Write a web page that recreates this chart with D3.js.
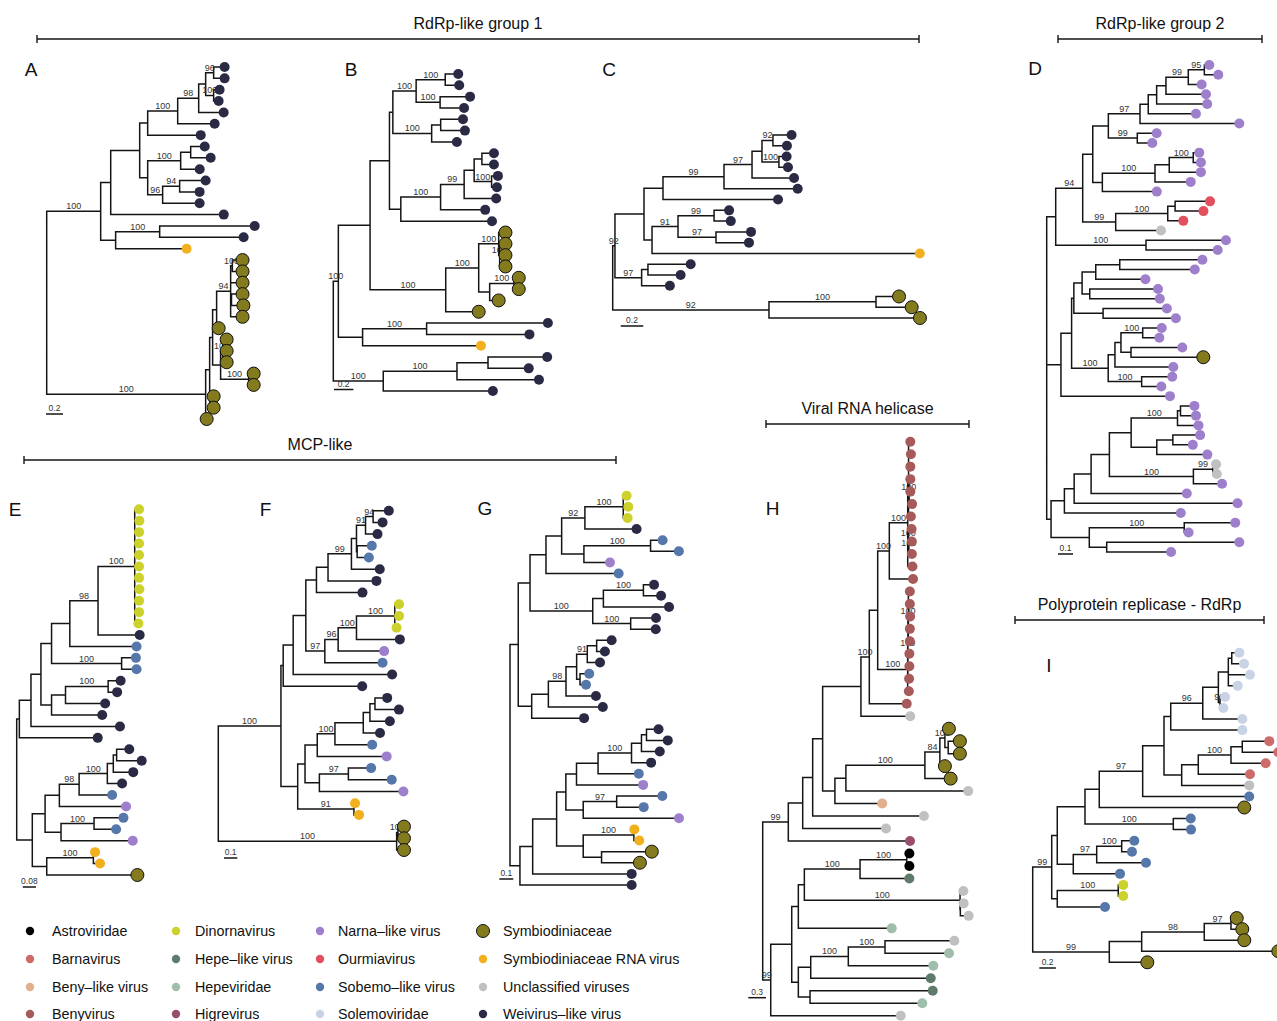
<!DOCTYPE html>
<html>
<head>
<meta charset="utf-8">
<script src="https://cdn.jsdelivr.net/npm/d3@7"></script>
<style>
  body { margin: 0; background: #fff; }
  svg { display: block; font-family: "Liberation Sans", Arial, Helvetica, sans-serif; }
</style>
</head>
<body>
<div id="chart"></div>
<script>
'use strict';

// tip categories (code used in the trees, legend name, colour)
const tipCodes = ["A", "R", "K", "V", "D", "H", "E", "G", "N", "O", "B", "L", "S", "Y", "U", "W"];
const tipNames = ["Astroviridae", "Barnavirus", "Beny\u2013like virus", "Benyvirus",
  "Dinornavirus", "Hepe\u2013like virus", "Hepeviridae", "Higrevirus",
  "Narna\u2013like virus", "Ourmiavirus", "Sobemo\u2013like virus", "Solemoviridae",
  "Symbiodiniaceae", "Symbiodiniaceae RNA virus", "Unclassified viruses", "Weivirus\u2013like virus"];
const tipColors = ["#000000", "#cd6b6b", "#e0b08c", "#a65a5a",
  "#cdd12b", "#5f7b6c", "#9fbfac", "#9a4e6e",
  "#9e7fcb", "#e2505d", "#5577aa", "#c8d3e6",
  "#847b1e", "#f2b01e", "#c0c0c0", "#2b2a45"];

const groupTitles = ["RdRp-like group 1", "RdRp-like group 2", "MCP-like", "Viral RNA helicase", "Polyprotein replicase - RdRp"];

// trees in newick, tip name = category code, internal name = bootstrap
const treeA = `(
 ((((((((W:.129,W:.129)96:.094,(W:.07,W:.059)100:.094):.082,W:.294)98:.247,W:.435)100:.353,W:.624):.094,
  (((W:.165,W:.235):.118,W:.224)100:.388,((W:.306,W:.235)94:.2,W:.435)96:.176):.094):.341,
  W:1.33):.118,
  ((W:1.118,W:.988)100:.518,Y:.835):.176)100:.635,
 ((((((S:.12,S:.12)100:.02,S:.14,(S:.13,S:.14):.01,S:.14)94:.165,S:.024):.047,
  ((S:.047,S:.047,S:.047)100:.024,(S:.059,S:.059)100:.33):.094):.035,
  (S:.035,S:.035):.012):.047,
  S:.012)100:1.87
)`;

const treeB = `(
 ((((((W:.134,W:.144)100:.3,(W:.309,W:.247)100:.247)100:.24,((W:.23,W:.25):.093,W:.26)100:.4):.035,
  (((((W:.124,W:.124):.08,(W:.065,W:.055)100:.18):.103,W:.33)99:.243,W:.46)100:.41,W:.94):.117):.2,
  (((S:.07,(S:.06,S:.06,S:.06)100:.01)100:.206,((S:.05,S:.05)100:.25,S:.093):.113)100:.34,S:.34)100:.78):.327,
  ((W:1.25,W:1.06)100:.66,Y:1.22):.25)100:.052,
 (((W:.61,W:.42):.32,W:.845)100:.76,W:1.13)100:.515
)`;

const treeC = `(
 (((((((W:.165,W:.124)92:.097,(W:.068,W:.08)100:.15):.088,W:.372)97:.248,W:.652)99:.54,W:1.018):.168,
  (((W:.133,W:.148)99:.319,(W:.31,W:.292)97:.336)91:.23,Y:2.37):.071):.257,
  ((W:.378,W:.289):.056,W:.25)97:.236)92:.02,
 ((S:.204,S:.316)100:.947,S:1.336)92:1.383
)`;

const treeD = `(
 ((((((((((N:.033,N:.093)95:.107,N:.089)99:.149,N:.267):.062,N:.337):.056,N:.318):.055,N:.662)97:.211,
  (N:.129,N:.1)99:.193):.104,
  ((((N:.04,N:.051)100:.16,N:.211):.095,N:.238)100:.351,N:.363):.064):.067,
  (((O:.233,O:.189):.049,O:.104)100:.347,U:.302)99:.22)94:.18,
  (N:.533,N:.478)100:.602):.06,
 ((((((N:.551,N:.5):.16,N:.331):.091,(N:.455,N:.467):.051):.055,(N:.425,N:.485):.195):.015,
  ((((N:.127,N:.111)100:.145,(N:.342,S:.482):.067):.04,N:.389):.045,(N:.204,N:.131)100:.223)100:.244):.071,
  N:.727):.095,
 ((((((((N:.093,N:.103):.02,N:.14)100:.309,((N:.182,N:.133):.107,N:.337):.171):.145,
  ((U:.022,U:.027)99:.129,N:.191)100:.56):.122,N:.638):.113,N:1.089):.065,N:.776):.089,
  ((N:.34,N:.029)100:.633,(N:.884,N:.429):.116):.255):.029
)`;

const treeE = `(
 (((((((D:.026,D:.028,D:.026,D:.026,D:.026,D:.026,D:.026,D:.028,D:.026,D:.026,D:.022)100:.221,W:.251)98:.17,B:.402):.11,
  (B:.086,B:.09)100:.422):.064,
  (((W:.075,W:.054)100:.257,W:.239):.084,W:.305):.064):.06,
  W:.536):.07,
  W:.472):.016,
 (((((((W:.076,W:.151):.02,W:.12):.036,W:.089)100:.17,B:.199)98:.119,N:.402):.086,
  ((B:.177,B:.133)100:.199,N:.432):.096):.077,
  ((Y:.01,Y:.04)100:.281,S:.546):.087):.094
)`;

const treeF = `(
 ((((((((((W:.118,W:.071)94:.057,W:.09)91:.068,(B:.11,B:.088):.005):.038,W:.213)99:.176,W:.364):.087,W:.346):.08,
  ((((D:.032,D:.032,D:.013)100:.288,W:.326)100:.138,N:.346)96:.1,B:.434)97:.143):.095,
  W:.744):.075,
  W:.594):.017,
  (((((((W:.092,W:.18):.038,W:.15):.05,W:.126):.213,B:.28)100:.133,N:.522):.092,
  ((B:.171,B:.326)97:.218,N:.632):.108):.055,
  (Y:.008,Y:.038)91:.423):.126)100:.471,
 ((S:.045,S:.045)100:.01,S:.055)100:1.341
)`;

const treeG = `(
 ((((((D:.024,D:.036,D:.031)100:.274,W:.369)92:.166,((B:.086,B:.202)100:.476,N:.186):.159):.112,B:.519):.114,
  (((W:.076,W:.126)100:.286,W:.469):.076,(W:.181,W:.179)100:.271)100:.448):.084,
  ((((((W:.107,W:.059):.067,W:.091)91:.076,(B:.066,B:.043):.024):.076,W:.214)98:.126,W:.389):.119,W:.374):.096):.059,
 (((((((((W:.086,W:.152):.036,W:.131):.071,W:.14)100:.239,B:.291):.154,N:.476):.076,
  ((B:.326,B:.193)97:.239,N:.684):.124):.066,
  ((Y:.003,Y:.038)100:.362,(S:.359,S:.274):.131):.19):.171,
  W:.707):.091,
  W:.798):.071
)`;

const treeH = `(
 ((((((((((V:.03,V:.04,V:.03,(V:.02,V:.02,V:.05)100:.01,V:.04):.014,(V:.05,(V:.05,V:.05)100:.005)100:.015,V:.08)100:.312,V:.402)100:.197,
  (((V:.025,V:.025,V:.03,V:.025,V:.025)100:.008,V:.025,V:.025,V:.02)100:.004,V:.02)100:.508):.142,V:.634)100:.142,U:.836):.649,
  (((((S:.068,(S:.198,S:.198):.056)100:.085,S:.085)84:.254,S:.436)100:1.339,U:2.073):.186,K:.802):.208):.169,
  U:1.886):.169,
  U:1.412):.244,
  G:2.063)99:.434,
 ((((((A:.044,A:.044)100:.792,H:.836)100:.944,(U:.056,(U:.056,U:.141):.005)100:2.639):.102,E:1.583):.112,
  ((((U:1.175,E:1.085)100:.622,E:1.441)100:.637,H:2.034):.21,(H:2.08,E:1.903):.198):.112):.356,
  U:2.203)99:.136
)`;

const treeI = `(
 (((((((((((L:.092,L:.148):.041,L:.261,L:.113):.12,(L:.06,L:.04)99:.02):.188,L:.477)96:.386,L:.863):.081,
  ((((R:.325,R:.434):.136,R:.418)100:.394,R:.623):.2,U:.814):.213):.257,B:1.284)97:.523,S:1.747):.172,
  (B:.21,B:.213)100:1.064):.334,
  (((B:.152,B:.124)100:.301,B:.594)97:.282,B:.563):.193):.067,
  ((D:.06,D:.06)100:.735,B:.575):.067)99:.229,
 ((((S:.069,S:.136)97:.322,S:.482)98:.754,S:1.646):.39,S:.458)99:.923
)`;

// scale bar values
const barValues = [0.2, 0.2, 0.2, 0.1, 0.08, 0.1, 0.1, 0.3, 0.2];

// ---- layout ----
const width = 1277, height = 1021;
const panels = [
  {id: "A", tree: treeA, rootX: 46.7,  ppu: 85,  yTop: 67,    yBottom: 419,   bar: [46, 414],     letter: [31, 76]},
  {id: "B", tree: treeB, rootX: 333.3, ppu: 97,  yTop: 74,    yBottom: 391,   bar: [334, 389.5],  letter: [351, 76]},
  {id: "C", tree: treeC, rootX: 612.7, ppu: 113, yTop: 135,   yBottom: 318,   bar: [620.7, 326],  letter: [609, 76]},
  {id: "D", tree: treeD, rootX: 1046.7,ppu: 150, yTop: 65,    yBottom: 552,   bar: [1058, 554],   letter: [1035, 75]},
  {id: "E", tree: treeE, rootX: 16.7,  ppu: 166, yTop: 509.3, yBottom: 875,   bar: [22.7, 887],   letter: [15, 516]},
  {id: "F", tree: treeF, rootX: 218.3, ppu: 133, yTop: 510.7, yBottom: 850,   bar: [224, 858],    letter: [265.5, 516]},
  {id: "G", tree: treeG, rootX: 510,   ppu: 140, yTop: 495.7, yBottom: 885,   bar: [499.3, 879],  letter: [485, 515]},
  {id: "H", tree: treeH, rootX: 762.7, ppu: 59,  yTop: 441.7, yBottom: 1015.7,bar: [748.3, 997.7],letter: [772.5, 515]},
  {id: "I", tree: treeI, rootX: 1032.7,ppu: 83,  yTop: 652.7, yBottom: 962.3, bar: [1039.3, 968], letter: [1049, 672]}
];
const groupSpans = [[37, 919, 39], [1058, 1262, 39], [24, 616, 460], [766, 969, 424], [1015, 1264, 620]];
const legendDotX = [30, 176, 320, 483], legendTextX = [52, 195, 338, 503];
const legendRowY = [931, 959, 987, 1014];

const color = d3.scaleOrdinal().domain(tipCodes).range(tipColors);

function parseNewick(str) {
  const s = str.replace(/\s+/g, "").replace(/;$/, "");
  let i = 0;
  function node() {
    const n = {children: [], length: 0};
    if (s[i] === "(") {
      i++;
      n.children.push(node());
      while (s[i] === ",") { i++; n.children.push(node()); }
      i++; // ')'
    }
    let name = "";
    while (i < s.length && !",():".includes(s[i])) name += s[i++];
    if (s[i] === ":") {
      i++;
      let num = "";
      while (i < s.length && !",()".includes(s[i])) num += s[i++];
      n.length = +num;
    }
    if (n.children.length) n.support = name; else n.tip = name;
    return n;
  }
  return node();
}

const svg = d3.select("#chart").append("svg")
  .attr("width", width)
  .attr("height", height);

svg.append("rect").attr("width", width).attr("height", height).attr("fill", "#fff");

function drawTree(p, k) {
  const root = d3.hierarchy(parseNewick(p.tree), d => d.children.length ? d.children : null);
  root.eachBefore(d => { d.dist = d.parent ? d.parent.dist + d.data.length : 0; });

  const leaves = root.leaves();
  const x = d3.scaleLinear().domain([0, 1]).range([p.rootX, p.rootX + p.ppu]);
  const y = d3.scalePoint().domain(d3.range(leaves.length)).range([p.yTop, p.yBottom]);

  leaves.forEach((d, i) => { d.py = y(i); });
  root.eachAfter(d => {
    if (d.children) d.py = (d.children[0].py + d.children[d.children.length - 1].py) / 2;
  });

  const g = svg.append("g").attr("class", "tree-" + p.id);

  // branches, rectangular layout
  g.append("path")
    .attr("fill", "none")
    .attr("stroke", "#151515")
    .attr("stroke-width", 1.5)
    .attr("stroke-linejoin", "miter")
    .attr("d", root.descendants().filter(d => d.parent).map(d =>
      "M" + x(d.parent.dist) + "," + d.parent.py + "V" + d.py + "H" + x(d.dist)).join(""));

  // bootstrap values
  g.selectAll("text.boot")
    .data(root.descendants().filter(d => d.parent && d.data.support))
    .join("text")
    .attr("class", "boot")
    .attr("x", d => (x(d.parent.dist) + x(d.dist)) / 2)
    .attr("y", d => d.py - 2)
    .attr("text-anchor", "middle")
    .style("font-size", "9px")
    .style("fill", "#333")
    .text(d => d.data.support);

  // tips
  g.selectAll("circle.tip")
    .data(leaves)
    .join("circle")
    .attr("class", "tip")
    .attr("cx", d => x(d.dist))
    .attr("cy", d => d.py)
    .attr("r", d => d.data.tip === "S" ? 6.5 : 5)
    .attr("fill", d => color(d.data.tip))
    .attr("stroke", d => d.data.tip === "S" ? "#111" : "none")
    .attr("stroke-width", 1);

  // scale bar
  const barLen = x(barValues[k]) - x(0);
  g.append("line")
    .attr("x1", p.bar[0]).attr("x2", p.bar[0] + barLen)
    .attr("y1", p.bar[1]).attr("y2", p.bar[1])
    .attr("stroke", "#151515").attr("stroke-width", 1.5);
  g.append("text")
    .attr("x", p.bar[0] + barLen / 2)
    .attr("y", p.bar[1] - 3)
    .attr("text-anchor", "middle")
    .style("font-size", "8.5px")
    .style("fill", "#333")
    .text(barValues[k]);

  // panel letter
  g.append("text")
    .attr("x", p.letter[0])
    .attr("y", p.letter[1])
    .attr("text-anchor", "middle")
    .style("font-size", "19px")
    .style("fill", "#111")
    .text(p.id);
}

panels.forEach(drawTree);

// group brackets
groupTitles.forEach((t, i) => {
  const [x1, x2, yy] = groupSpans[i];
  const gg = svg.append("g").attr("stroke", "#151515").attr("stroke-width", 1.4);
  gg.append("line").attr("x1", x1).attr("x2", x2).attr("y1", yy).attr("y2", yy);
  gg.append("line").attr("x1", x1).attr("x2", x1).attr("y1", yy - 4).attr("y2", yy + 4);
  gg.append("line").attr("x1", x2).attr("x2", x2).attr("y1", yy - 4).attr("y2", yy + 4);
  svg.append("text")
    .attr("x", (x1 + x2) / 2)
    .attr("y", yy - 10)
    .attr("text-anchor", "middle")
    .style("font-size", "16px")
    .style("fill", "#111")
    .text(t);
});

// legend
const legend = svg.append("g").attr("class", "legend");
tipCodes.forEach((c, i) => {
  const col = Math.floor(i / 4), row = i % 4;
  legend.append("circle")
    .attr("cx", legendDotX[col])
    .attr("cy", legendRowY[row])
    .attr("r", c === "S" ? 6.5 : 4.2)
    .attr("fill", color(c))
    .attr("stroke", c === "S" ? "#111" : "none");
  legend.append("text")
    .attr("x", legendTextX[col])
    .attr("y", legendRowY[row] + 5)
    .style("font-size", "14.3px")
    .style("fill", "#111")
    .text(tipNames[i]);
});
</script>
</body>
</html>
